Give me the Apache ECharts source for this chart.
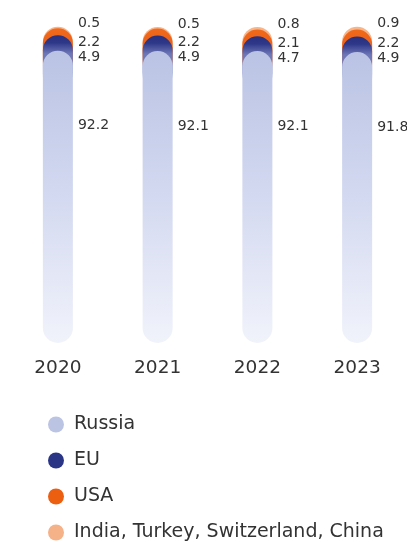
<!DOCTYPE html>
<html><head><meta charset="utf-8">
<script src="https://cdn.jsdelivr.net/npm/echarts@6/dist/echarts.min.js"></script>
<style>html,body{margin:0;padding:0;background:#fff;}#c{width:407px;height:542px;}</style>
</head><body><div id="c"></div>
<script>
const categories = ['2020', '2021', '2022', '2023'];
const russia = [92.2, 92.1, 92.1, 91.8];
const eu = [4.9, 4.9, 4.7, 4.9];
const usa = [2.2, 2.2, 2.1, 2.2];
const others = [0.5, 0.5, 0.8, 0.9];
const seriesNames = ['Russia', 'EU', 'USA', 'India, Turkey, Switzerland, China'];

const cumRussia = russia.slice();
const cumEU = cumRussia.map((v, i) => v + eu[i]);
const cumUSA = cumEU.map((v, i) => v + usa[i]);
const cumOthers = cumUSA.map((v, i) => v + others[i]);

const FONT = 'DejaVu Sans';
const TXT = '#333333';

function grad(stops) {
  return new echarts.graphic.LinearGradient(0, 0, 0, 1, stops.map(s => ({ offset: s[0], color: s[1] })));
}

function mk(name, cum, raw, color, labelOffset, z) {
  return {
    name: name, type: 'bar', barWidth: 30, barGap: '-100%', z: z,
    data: cum.map((v, i) => ({ value: v, raw: raw[i] })),
    itemStyle: { color: color, borderRadius: 15 },
    label: {
      show: true, position: [35, labelOffset], align: 'left', verticalAlign: 'middle',
      fontFamily: FONT, fontSize: 14, color: TXT,
      formatter: p => String(p.data.raw)
    },
    emphasis: { disabled: true }
  };
}

const chart = echarts.init(document.getElementById('c'));
chart.setOption({
  animation: false,
  grid: { left: 8, width: 400, top: 26, bottom: 199 },
  xAxis: {
    type: 'category', data: categories,
    axisLine: { show: false }, axisTick: { show: false },
    axisLabel: { fontFamily: FONT, fontSize: 18.5, color: TXT, margin: 16 }
  },
  yAxis: { type: 'value', min: 0, max: 100, show: false, splitLine: { show: false } },
  legend: {
    orient: 'vertical', left: 43, top: 410, height: 300, icon: 'circle',
    itemWidth: 16, itemHeight: 16, itemGap: 17,
    textStyle: { fontFamily: FONT, fontSize: 19, color: TXT, padding: [0, 0, 0, 5] },
    data: [
      { name: seriesNames[0], itemStyle: { color: '#bcc4e4' } },
      { name: seriesNames[1], itemStyle: { color: '#2b3585' } },
      { name: seriesNames[2], itemStyle: { color: '#ec5e10' } },
      { name: seriesNames[3], itemStyle: { color: '#f5b187' } }
    ]
  },
  series: [
    mk(seriesNames[3], cumOthers, others, grad([
      [0, '#f7b58c'], [0.08, '#f7b58c'], [0.1, 'rgba(247,181,140,0)'], [1, 'rgba(247,181,140,0)']
    ]), -3, 1),
    mk(seriesNames[2], cumUSA, usa, grad([
      [0, '#f06a1c'], [0.03, '#ee6418'], [0.1, '#ee6418'], [0.12, 'rgba(238,100,24,0)'], [1, 'rgba(238,100,24,0)']
    ]), 14, 2),
    mk(seriesNames[1], cumEU, eu, grad([
      [0, '#29307e'], [0.025, '#2e3889'], [0.06, '#6d76b6'], [0.12, '#7e87c0'], [0.14, 'rgba(126,135,192,0)'], [1, 'rgba(126,135,192,0)']
    ]), 22, 3),
    mk(seriesNames[0], cumRussia, russia, grad([
      [0, '#bac3e4'], [0.5, '#d3d9f0'], [1, '#f1f3fb']
    ]), 75, 4)
  ]
});
</script></body></html>
